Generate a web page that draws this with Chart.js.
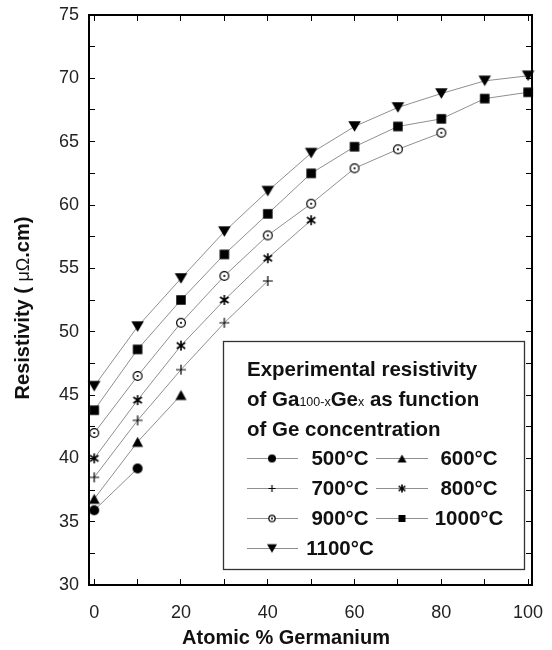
<!DOCTYPE html>
<html><head><meta charset="utf-8">
<script src="https://cdn.jsdelivr.net/npm/chart.js@4.4.1/dist/chart.umd.min.js"></script>
<style>html,body{margin:0;padding:0;background:#fff;} canvas{display:block;}</style>
</head><body>
<canvas id="c" width="552" height="650"></canvas>
<script>
// ---- data ----
const xValues = [0, 10, 20, 30, 40, 50, 60, 70, 80, 90, 100];
const temperatures = ['500°C', '600°C', '700°C', '800°C', '900°C', '1000°C', '1100°C'];
const rho500 = [35.9, 39.2];
const rho600 = [36.8, 41.3, 45.0];
const rho700 = [38.5, 43.0, 47.0, 50.7, 54.0];
const rho800 = [40.0, 44.6, 48.9, 52.5, 55.8, 58.8];
const rho900 = [42.0, 46.5, 50.7, 54.4, 57.6, 60.1, 62.9, 64.4, 65.7];
const rho1000 = [43.8, 48.6, 52.5, 56.1, 59.3, 62.5, 64.6, 66.2, 66.8, 68.4, 68.9];
const rho1100 = [45.7, 50.4, 54.2, 57.9, 61.1, 64.1, 66.2, 67.7, 68.8, 69.8, 70.2];
const xTicks = [0, 10, 20, 30, 40, 50, 60, 70, 80, 90, 100];
const xTickLabels = [0, 20, 40, 60, 80, 100];
const yTicks = [30, 32.5, 35, 37.5, 40, 42.5, 45, 47.5, 50, 52.5, 55, 57.5, 60, 62.5, 65, 67.5, 70, 72.5, 75];
const yTickLabels = [30, 35, 40, 45, 50, 55, 60, 65, 70, 75];
const xTitle = 'Atomic % Germanium';
const yTitleParts = ['Resistivity ( ', 'μΩ', '.cm)'];
const legendTitle = ['Experimental resistivity', 'of Ga', '100-x', 'Ge', 'x', ' as function', 'of Ge concentration'];

const series = [rho500, rho600, rho700, rho800, rho900, rho1000, rho1100];
const markerKinds = ['circle', 'triUp', 'plus', 'aster', 'odot', 'square', 'triDown'];

// ---- markers ----
function makeMarker(kind, s) {
  const pad = 2;
  const c = document.createElement('canvas');
  c.width = Math.ceil(s + pad * 2); c.height = Math.ceil(s + pad * 2);
  const g = c.getContext('2d');
  const cx = c.width / 2, cy = c.height / 2, r = s / 2;
  g.fillStyle = '#000'; g.strokeStyle = '#000';
  if (kind === 'circle') {
    g.beginPath(); g.arc(cx, cy, r, 0, Math.PI * 2); g.fill();
  } else if (kind === 'square') {
    g.fillRect(cx - r, cy - r, s, s);
  } else if (kind === 'triUp') {
    const h = s * 0.9;
    g.beginPath(); g.moveTo(cx, cy - h / 2); g.lineTo(cx + r, cy + h / 2); g.lineTo(cx - r, cy + h / 2); g.closePath(); g.fill();
  } else if (kind === 'triDown') {
    const h = s * 0.85;
    g.beginPath(); g.moveTo(cx - r, cy - h / 2); g.lineTo(cx + r, cy - h / 2); g.lineTo(cx, cy + h / 2); g.closePath(); g.fill();
  } else if (kind === 'plus') {
    g.lineWidth = 1.2;
    g.beginPath(); g.moveTo(cx - r, cy); g.lineTo(cx + r, cy); g.moveTo(cx, cy - r); g.lineTo(cx, cy + r); g.stroke();
  } else if (kind === 'aster') {
    g.lineWidth = 1.6;
    const a = r * 0.85, b = r * 0.6;
    g.beginPath();
    g.moveTo(cx, cy - r); g.lineTo(cx, cy + r);
    g.moveTo(cx - a, cy - b); g.lineTo(cx + a, cy + b);
    g.moveTo(cx - a, cy + b); g.lineTo(cx + a, cy - b);
    g.stroke();
  } else if (kind === 'odot') {
    g.fillStyle = '#fff';
    g.beginPath(); g.arc(cx, cy, r - 0.6, 0, Math.PI * 2); g.fill();
    g.lineWidth = 1.2; g.stroke();
    g.fillStyle = '#000';
    g.beginPath(); g.arc(cx, cy, Math.max(1, s * 0.11), 0, Math.PI * 2); g.fill();
  }
  return c;
}
const plotSizes = {circle: 10, triUp: 11, plus: 10, aster: 10, odot: 10, square: 9.5, triDown: 12.5};
const legendSizes = {circle: 8, triUp: 9, plus: 7, aster: 8, odot: 7.5, square: 7, triDown: 10};
const plotMarkers = markerKinds.map(k => makeMarker(k, plotSizes[k]));
const legendMarkers = markerKinds.map(k => makeMarker(k, legendSizes[k]));

const datasets = series.map((ys, i) => ({
  label: temperatures[i],
  data: ys.map((y, j) => ({x: xValues[j], y: y})),
  borderColor: '#8f8f8f',
  borderWidth: 1,
  pointStyle: plotMarkers[i],
  pointRadius: 5,
  tension: 0,
  clip: false
}));

const FONT = '"Liberation Sans", Arial, Helvetica, sans-serif';
const BIG = 'bold 20.5px ' + FONT;

const decor = {
  id: 'decor',
  afterDraw(chart) {
    const g = chart.ctx;
    g.save();
    g.fillStyle = '#111';
    // axis titles
    g.font = 'bold 20px ' + FONT;
    g.textAlign = 'center'; g.textBaseline = 'middle';
    g.fillText(xTitle, 286, 638);
    // y title, drawn in pieces (μΩ thinner)
    g.save();
    g.translate(22, 308); g.rotate(-Math.PI / 2);
    g.textAlign = 'left'; g.textBaseline = 'alphabetic';
    const fB = 'bold 20px ' + FONT, fN = '18px ' + FONT;
    const fonts = [fB, fN, fB];
    let total = 0;
    const widths = yTitleParts.map((t, i) => { g.font = fonts[i]; const w = g.measureText(t).width; total += w; return w; });
    let px = -total / 2;
    yTitleParts.forEach((t, i) => { g.font = fonts[i]; g.fillText(t, px, 7); px += widths[i]; });
    g.restore();

    // legend box
    g.strokeStyle = '#333'; g.lineWidth = 1.3;
    g.strokeRect(223.5, 341.5, 301, 228);
    g.textAlign = 'left'; g.textBaseline = 'alphabetic';
    g.fillStyle = '#111';
    const bl = [376, 406, 436];
    const X0 = 247;
    g.font = BIG;
    g.fillText(legendTitle[0], X0, bl[0]);
    let x = X0;
    g.fillText(legendTitle[1], x, bl[1]); x += g.measureText(legendTitle[1]).width;
    g.font = '12.5px ' + FONT;
    g.fillText(legendTitle[2], x, bl[1]); x += g.measureText(legendTitle[2]).width;
    g.font = BIG;
    g.fillText(legendTitle[3], x, bl[1]); x += g.measureText(legendTitle[3]).width;
    g.font = '12.5px ' + FONT;
    g.fillText(legendTitle[4], x, bl[1]); x += g.measureText(legendTitle[4]).width;
    g.font = BIG;
    g.fillText(legendTitle[5], x, bl[1]);
    g.fillText(legendTitle[6], X0, bl[2]);

    // entries
    const rowsY = [458, 488, 518, 548];
    const cols = [{l: 247, r: 298, m: 272, t: 340}, {l: 376, r: 428, m: 402, t: 469}];
    g.textAlign = 'center'; g.textBaseline = 'middle';
    temperatures.forEach((lab, i) => {
      const row = Math.floor(i / 2), col = cols[i % 2];
      const y = rowsY[row];
      g.strokeStyle = '#8f8f8f'; g.lineWidth = 1;
      g.beginPath(); g.moveTo(col.l, y + 0.5); g.lineTo(col.r, y + 0.5); g.stroke();
      const m = legendMarkers[i];
      g.drawImage(m, col.m - m.width / 2, y + 0.5 - m.height / 2);
      g.fillStyle = '#111';
      g.fillText(lab, col.t, y + 1);
    });
    g.restore();
  }
};

function noPad(s) { s.paddingLeft = 0; s.paddingRight = 0; s.paddingTop = 0; s.paddingBottom = 0; }
const tickFont = {family: FONT, size: 18};
const gridOpts = {drawOnChartArea: false, drawTicks: true, tickLength: -6, color: '#000', tickWidth: 1};
const borderOpts = {display: true, color: '#000', width: 2};
new Chart(document.getElementById('c'), {
  type: 'line',
  data: {datasets},
  plugins: [decor],
  options: {
    responsive: false,
    animation: false,
    layout: {padding: {top: 15, right: 20, left: 0, bottom: 0}},
    plugins: {legend: {display: false}, tooltip: {enabled: false}},
    scales: {
      x: {
        type: 'linear', position: 'bottom', min: -1.2, max: 100.9,
        afterBuildTicks: s => { s.ticks = xTicks.map(v => ({value: v})); },
        afterFit: s => { s.height = 65; noPad(s); },
        ticks: {
          font: tickFont, color: '#222', padding: 23, maxRotation: 0, autoSkip: false,
          callback: v => xTickLabels.includes(v) ? String(v) : ''
        },
        grid: gridOpts, border: borderOpts
      },
      x2: {
        type: 'linear', position: 'top', min: -1.2, max: 100.9,
        afterBuildTicks: s => { s.ticks = xTicks.map(v => ({value: v})); },
        afterFit: s => { s.height = 0; noPad(s); },
        ticks: {display: false},
        grid: gridOpts, border: borderOpts
      },
      y: {
        type: 'linear', position: 'left', min: 30, max: 75,
        afterBuildTicks: s => { s.ticks = yTicks.map(v => ({value: v})); },
        afterFit: s => { s.width = 89; noPad(s); },
        ticks: {
          font: tickFont, color: '#222', padding: 16, autoSkip: false,
          callback: v => yTickLabels.includes(v) ? String(v) : ''
        },
        grid: gridOpts, border: borderOpts
      },
      y2: {
        type: 'linear', position: 'right', min: 30, max: 75,
        afterBuildTicks: s => { s.ticks = yTicks.map(v => ({value: v})); },
        afterFit: s => { s.width = 0; noPad(s); },
        ticks: {display: false},
        grid: gridOpts, border: borderOpts
      }
    }
  }
});
</script>
</body></html>
